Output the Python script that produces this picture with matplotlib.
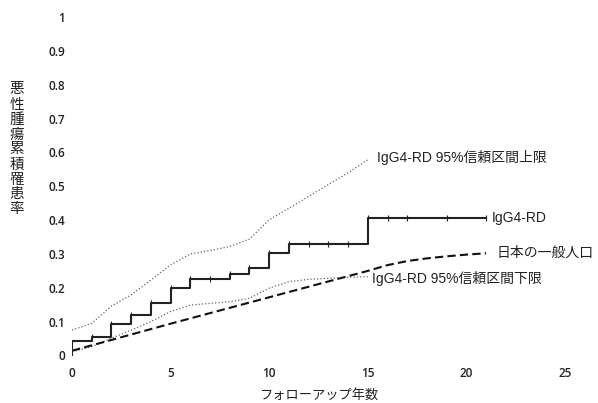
import numpy as np
import matplotlib.pyplot as plt

plt.rcParams['font.family'] = ['Open Sans', 'Noto Sans CJK JP', 'DejaVu Sans']

# Kaplan-Meier steps (IgG4-RD)
km_t = [0, 0, 1, 2, 3, 4, 5, 6, 8, 9, 10, 11, 15, 21]
km_y = [0, 0.043, 0.056, 0.092, 0.12, 0.154, 0.199, 0.225, 0.241, 0.258, 0.302, 0.328, 0.405, 0.405]
cens_t = [1, 2, 3, 4, 5, 6, 7, 8, 9, 10, 11, 12, 13, 14, 15, 16, 17, 19, 21]

# 95% CI
ci_t = [0, 1, 2, 3, 4, 5, 6, 7, 8, 9, 10, 11, 12, 13, 14, 15]
ci_up = [0.075, 0.095, 0.146, 0.179, 0.223, 0.268, 0.300, 0.310, 0.322, 0.344, 0.401, 0.435, 0.470, 0.505, 0.540, 0.578]
ci_lo = [0.011, 0.026, 0.051, 0.075, 0.100, 0.130, 0.149, 0.154, 0.159, 0.169, 0.199, 0.218, 0.225, 0.228, 0.231, 0.233]

# Japanese general population
gp_t = [0, 5, 10, 15, 16, 17, 18, 19, 20, 21]
gp_y = [0.014, 0.094, 0.172, 0.250, 0.267, 0.279, 0.287, 0.293, 0.298, 0.302]

fig = plt.figure(figsize=(5.98, 4.03), dpi=100)
ax = fig.add_axes([72/598, (403-355.5)/403, (565-72)/598, (355.5-17)/403])

ax.plot(ci_t, ci_up, ls=':', color='#666666', lw=0.9)
ax.plot(ci_t, ci_lo, ls=':', color='#666666', lw=0.9)
ax.plot(gp_t, gp_y, ls=(0, (4, 2)), color='#111111', lw=1.5)
ax.step(km_t, km_y, where='post', color='#222222', lw=1.5)
# post-step values at censoring times
cy = [km_y[max(i for i in range(1, len(km_t)) if km_t[i] <= t)] for t in cens_t]
ax.plot(cens_t, cy, ls='none', marker='|', ms=4, mew=0.8, color='#222222')

ax.set_xlim(0, 25)
ax.set_ylim(0, 1)
ax.set_xticks([0, 5, 10, 15, 20, 25])
ax.set_yticks(np.arange(0, 1.01, 0.1))
ax.set_yticklabels(['0', '0.1', '0.2', '0.3', '0.4', '0.5', '0.6', '0.7', '0.8', '0.9', '1'])
ax.tick_params(length=0, labelsize=8.5, pad=5, labelcolor='#222222')
ax.tick_params(axis='x', pad=8)
for lab in ax.get_xticklabels() + ax.get_yticklabels():
    lab.set_fontweight('semibold')
for s in ax.spines.values():
    s.set_visible(False)

kw = dict(fontsize=10, va='center', ha='left', clip_on=False, color='#222222',
          family=['Liberation Sans', 'Noto Sans CJK JP'])
ax.text(15.45, 0.585, 'IgG4-RD 95%信頼区間上限', **kw)
ax.text(21.3, 0.405, 'IgG4-RD', **kw)
ax.text(21.55, 0.302, '日本の一般人口', **kw)
ax.text(15.2, 0.228, 'IgG4-RD 95%信頼区間下限', **kw)

ax.set_xlabel('フォローアップ年数', fontsize=9.5, labelpad=7, color='#222222')
fig.text(17/598, 1 - 150/403, '\n'.join('悪性腫瘍累積罹患率'), fontsize=10.5,
         ha='center', va='center', linespacing=1.0, color='#222222')

fig.savefig('out.png', dpi=100)
